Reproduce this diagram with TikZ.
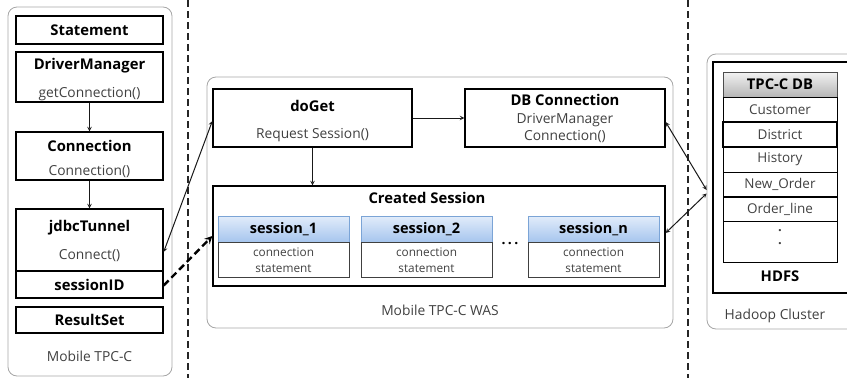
\documentclass[tikz,border=0pt]{standalone}
\usepackage{fontspec}
\setmainfont{Open Sans}
\usetikzlibrary{positioning}
\definecolor{shtop}{HTML}{E2ECFA}
\definecolor{shbot}{HTML}{A6C5EE}
\definecolor{shline}{HTML}{7BA4D6}
\definecolor{dbtop}{HTML}{F2F2F2}
\definecolor{dbbot}{HTML}{B5B5B5}
\tikzset{
  group/.style={draw=black!35, line width=0.8pt, rounded corners=9pt, inner sep=0pt},
  blk/.style={draw, line width=1.3pt, inner sep=0pt},
  ttl/.style={font=\bfseries\fontsize{14.8}{17}\selectfont},
  sub/.style={font=\fontsize{13.8}{16}\selectfont, text=black!75},
  grplabel/.style={font=\fontsize{13.8}{16}\selectfont, text=black!75},
  shead/.style={draw=shline, line width=0.8pt, top color=shtop, bottom color=shbot,
    minimum width=131pt, minimum height=26pt, inner sep=0pt,
    font=\bfseries\fontsize{14.5}{17}\selectfont},
  sbody/.style={draw=black!75, line width=0.8pt, minimum width=131pt, minimum height=35pt,
    inner sep=0pt, align=center, font=\fontsize{11.8}{15.5}\selectfont, text=black!75},
  row/.style={draw, line width=0.7pt, minimum width=114pt, minimum height=25pt,
    inner sep=0pt, font=\fontsize{13.5}{16}\selectfont, text=black!75},
  link/.style={line width=1pt, black!90},
  sep/.style={line width=1.2pt, dash pattern=on 7pt off 4pt, black!85}
}

\begin{document}
\begin{tikzpicture}[x=1pt, y=-1pt, >=stealth]
  \useasboundingbox (0,0) rectangle (847,378);
  % tier separators
  \draw[sep] (188,0) -- (188,378);
  \draw[sep] (688,0) -- (688,378);

  % client side
  \node[group, minimum width=164pt, minimum height=369pt] (mobile) at (90,191.5) {};
  \node[grplabel] (mobilecap) at (89.5,356) {Mobile TPC-C};
  \node[blk, minimum width=147pt, minimum height=28pt] (stmt) at (89.5,30) {};
  \node[ttl] (stmtt) at (stmt) {Statement};
  \node[blk, minimum width=147pt, minimum height=50pt] (drvm) at (89.5,77) {};
  \node[ttl] (drvmt) at (89.5,66) {DriverManager};
  \node[sub] (drvms) at (89.5,94) {getConnection()};
  \node[blk, minimum width=147pt, minimum height=48pt] (conn) at (89.5,156) {};
  \node[ttl] (connt) at (89.5,146) {Connection};
  \node[sub] (conns) at (89.5,172) {Connection()};
  \node[blk, minimum width=147pt, minimum height=62pt] (jdbc) at (89.5,240) {};
  \node[ttl] (jdbct) at (89.5,228) {jdbcTunnel};
  \node[sub] (jdbcs) at (89.5,256) {Connect()};
  \node[blk, minimum width=147pt, minimum height=27pt] (sid) at (89.5,284.5) {};
  \node[ttl] (sidt) at (sid) {sessionID};
  \node[blk, minimum width=147pt, minimum height=26pt] (rset) at (89.5,320) {};
  \node[ttl] (rsett) at (rset) {ResultSet};
  \draw[link, ->] (drvm.south) -- (conn.north);
  \draw[link, ->] (conn.south) -- (jdbc.north);

  % WAS
  \node[group, minimum width=466pt, minimum height=251pt] (was) at (440,202.5) {};
  \node[grplabel] (wascap) at (440,310) {Mobile TPC-C WAS};
  \node[blk, minimum width=199pt, minimum height=58pt] (doget) at (312.5,118) {};
  \node[ttl] (dogett) at (312.5,106) {doGet};
  \node[sub] (dogets) at (312.5,135) {Request Session()};
  \node[blk, minimum width=200pt, minimum height=58pt] (dbc) at (565,118) {};
  \node[ttl] (dbct) at (565,100) {DB Connection};
  \node[sub] (dbcs) at (565,120) {DriverManager};
  \node[sub] (dbcs2) at (565,137) {Connection()};
  \node[blk, minimum width=452pt, minimum height=100pt] (cses) at (439,236) {};
  \node[ttl] (csest) at (427,198) {Created Session};
  \foreach \id/\xx/\nm in {s1/283.5/1, s2/426.5/2, sn/593.5/n}{
    \node[shead] (\id) at (\xx,229) {session\_\nm};
    \node[sbody, below=0pt of \id] (\id b) {connection\\statement};
  }
  \node[font=\bfseries\fontsize{14}{14}\selectfont] (dots) at (510,244) {.\,.\,.};
  \draw[link, ->] (doget.east) -- (dbc.west);
  \draw[link, ->] (doget.south) -- (doget.south |- cses.north);

  % Hadoop side
  \node[group, minimum width=160pt, minimum height=275pt] (hadoop) at (787,191.5) {};
  \node[grplabel] (hadoopcap) at (775,316) {Hadoop Cluster};
  \node[blk, minimum width=140pt, minimum height=231pt] (hdfs) at (783,177.5) {};
  \node[ttl] (hdfst) at (780,276) {HDFS};
  \node[draw=black!70, line width=0.8pt, top color=dbtop, bottom color=dbbot,
    minimum width=114pt, minimum height=25pt, inner sep=0pt,
    font=\bfseries\fontsize{14.8}{17}\selectfont] (tpcc) at (780,84.5) {TPC-C DB};
  \node[row] (cust) at (780,109.5) {Customer};
  \node[row, line width=1.3pt] (dist) at (780,134.5) {District};
  \node[row] (hist) at (780,159.5) {History};
  \node[row] (nord) at (780,184.5) {New\_Order};
  \node[row] (oline) at (780,209) {Order\_line};
  \node[row, minimum height=41pt, align=center, font=\bfseries\fontsize{13}{14}\selectfont]
    (more) at (780,241.5) {.\\[-1pt].\\[-6pt]};

  % links across tiers
  \draw[link, <->] ([yshift=-12pt]jdbc.east) -- ([yshift=-3pt]doget.west);
  \draw[->, line width=2.4pt, dash pattern=on 7pt off 4pt] ([yshift=-1pt]sid.east) -- (cses.west);
  \draw[link, <->] ([yshift=-4pt]dbc.east) -- ([yshift=1.5pt]hadoop.west);
  \draw[link, <->] ([yshift=3pt]cses.east) -- ([yshift=-2pt]hadoop.west);
\end{tikzpicture}
\end{document}
